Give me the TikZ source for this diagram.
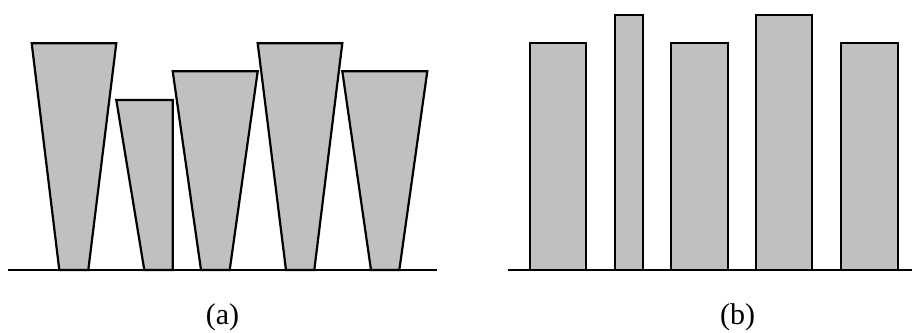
\documentclass[tikz,border=0pt]{standalone}
\usepackage{fontspec}
\setmainfont{Liberation Serif}
\definecolor{shade}{RGB}{192,192,192}
\tikzset{
  piece/.style={draw=black, fill=shade, line width=2.2pt, line join=miter},
  ground/.style={draw=black, line width=2.2pt},
  caption/.style={font=\fontsize{30}{30}\selectfont, anchor=base, inner sep=0pt}
}
\begin{document}
\begin{tikzpicture}[x=1pt, y=-1pt]
\useasboundingbox (0,0) rectangle (912,332);
% (a) trapezoids
\draw[piece] (31.7,43.3) -- (116.3,43.3) -- (88.3,270) -- (59.3,270) -- cycle;
\draw[piece] (116.3,100) -- (172.7,100) -- (172.7,270) -- (144.3,270) -- cycle;
\draw[piece] (172.7,71.3) -- (257.7,71.3) -- (229.7,270) -- (201,270) -- cycle;
\draw[piece] (257.7,43.3) -- (342.3,43.3) -- (314.3,270) -- (286,270) -- cycle;
\draw[piece] (342.3,71.3) -- (427.3,71.3) -- (399.3,270) -- (371,270) -- cycle;
\coordinate (ga1) at (8.3,270);
\coordinate (ga2) at (436.7,270);
\draw[ground] (ga1) -- (ga2);
\node[caption] (capa) at (222.5,324) {(a)};
% (b) rectangles
\draw[piece] (530,43.3) rectangle (586.3,270);
\draw[piece] (614.7,15) rectangle (643,270);
\draw[piece] (671.3,43.3) rectangle (728,270);
\draw[piece] (756.3,15) rectangle (812.3,270);
\draw[piece] (841,43.3) rectangle (897.7,270);
\coordinate (gb1) at (507.7,270);
\coordinate (gb2) at (912,270);
\draw[ground] (gb1) -- (gb2);
\node[caption] (capb) at (737.5,324) {(b)};
\end{tikzpicture}
\end{document}
